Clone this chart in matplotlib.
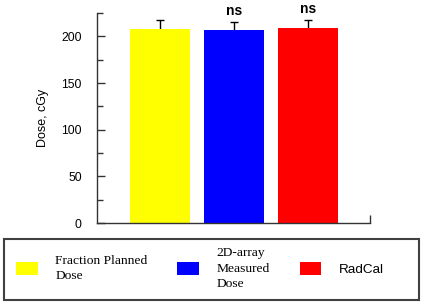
import matplotlib.pyplot as plt
from matplotlib.patches import Rectangle

# data
groups = ["Fraction Planned\nDose", "2D-array\nMeasured\nDose", "RadCal"]
doses = [208.3, 206.8, 208.6]
errs = [9.7, 8.6, 8.9]
colors = ["#ffff00", "#0000ff", "#ff0000"]
signif = ["", "ns", "ns"]

W, H = 423, 302
fig = plt.figure(figsize=(W / 100, H / 100), dpi=100)
ax = fig.add_axes([97 / W, 79 / H, 273 / W, 210 / H])

sans = "Liberation Sans"
serif = "Liberation Serif"
axcol = "#333333"

xs = range(len(doses))
# error bars sit behind the bars so only the upper half shows
ax.errorbar(xs, doses, yerr=errs, fmt="none", ecolor="black",
            elinewidth=1, capsize=3, capthick=1, zorder=1)
bars = ax.bar(xs, doses, width=0.81, color=colors, edgecolor="none", zorder=2)

for i, s in enumerate(signif):
    if s:
        ax.annotate(s, (i, doses[i] + errs[i]), xytext=(0, 3), textcoords="offset points",
                    ha="center", va="bottom", fontsize=10, fontweight="bold",
                    family=sans, annotation_clip=False)

ax.set_xlim(-0.85, 2.84)
ax.set_ylim(0, 225)
ax.set_yticks(range(0, 201, 50))
ax.set_yticks(range(25, 226, 50), minor=True)
ax.set_yticklabels([str(v) for v in range(0, 201, 50)], family=sans, fontsize=8.7)
ax.set_xticks([2.84])
ax.set_xticklabels([""])
ax.tick_params(axis="y", which="major", direction="in", length=6, width=1, pad=11, colors=axcol,
               labelcolor="black")
ax.tick_params(axis="y", which="minor", direction="in", length=4, width=1, colors=axcol)
ax.tick_params(axis="x", direction="in", length=6, width=1, colors=axcol)
for side in ["top", "right"]:
    ax.spines[side].set_visible(False)
for side in ["left", "bottom"]:
    ax.spines[side].set_color(axcol)
    ax.spines[side].set_linewidth(1)
ax.set_ylabel("Dose, cGy", family=sans, fontsize=9, labelpad=9)

# legend
leg = fig.legend(bars, groups, loc="center", ncol=3, mode="expand",
                 bbox_to_anchor=(4 / W, 3 / H, 392 / W, 61 / H), bbox_transform=fig.transFigure,
                 frameon=False, borderaxespad=0, borderpad=0.9, fontsize=9.7,
                 handlelength=1.6, handleheight=1.2, handletextpad=1.3)
for t, fam in zip(leg.get_texts(), [serif, serif, sans]):
    t.set_family(fam)
    t.set_linespacing(1.35)
fig.patches.append(Rectangle((4 / W, 2 / H), 415 / W, 61 / H, transform=fig.transFigure,
                             fill=False, edgecolor="#404040", linewidth=1.5))

fig.savefig("out.png", dpi=100)
